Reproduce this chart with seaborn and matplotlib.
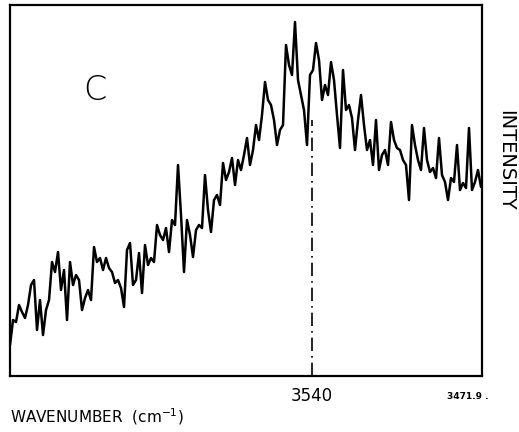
import numpy as np
import pandas as pd
import seaborn as sns
import matplotlib.pyplot as plt

# Spectrum C (intensity in arbitrary units, 0 = frame bottom)
wn_start = 3661.0
wn_end = 3472.3
intensity = [
    31, 56, 54, 71, 64, 58, 71, 91, 96, 46,
    76, 41, 66, 76, 114, 104, 124, 86, 106, 56,
    114, 91, 101, 96, 66, 78, 86, 76, 129, 114,
    118, 106, 118, 108, 104, 93, 96, 88, 69, 126,
    133, 91, 96, 123, 83, 131, 111, 118, 114, 151,
    141, 136, 148, 124, 156, 151, 211, 161, 104, 156,
    141, 119, 146, 151, 148, 201, 166, 144, 176, 181,
    171, 213, 196, 204, 218, 191, 216, 206, 221, 238,
    211, 226, 251, 236, 261, 294, 276, 271, 256, 231,
    246, 251, 331, 311, 301, 354, 296, 281, 266, 231,
    301, 306, 333, 316, 276, 291, 281, 314, 296, 261,
    228, 306, 266, 271, 258, 226, 256, 281, 251, 226,
    236, 211, 256, 206, 221, 226, 211, 254, 236, 228,
    226, 216, 211, 176, 251, 231, 216, 206, 248, 216,
    204, 208, 198, 238, 201, 194, 176, 198, 194, 231,
    186, 193, 188, 248, 186, 194, 206, 189,
]
wavenumber = np.linspace(wn_start, wn_end, len(intensity))
peak_wn = 3540
x_left = 3661.0
x_right = 3471.9

df = pd.DataFrame({"wavenumber": wavenumber, "intensity": intensity})

sns.set_style("white")
plt.rcParams['font.family'] = ['DejaVu Sans']
plt.rcParams['text.color'] = 'black'
plt.rcParams['axes.labelcolor'] = 'black'
plt.rcParams['xtick.color'] = 'black'

fig = plt.figure(figsize=(5.19, 4.32), dpi=100)
ax = fig.add_axes([0.0193, 0.1296, 0.9094, 0.8588])

sns.lineplot(data=df, x="wavenumber", y="intensity", estimator=None,
             color="black", linewidth=1.8, ax=ax)

# dash-dot marker line at the band centre
ax.plot([peak_wn, peak_wn], [0, 256], color="black", linewidth=1.2,
        linestyle=(0, (8, 3, 1, 3)))

ax.set_xlim(x_left, x_right)
ax.set_ylim(0, 371)
for s in ax.spines.values():
    s.set_color("black")
    s.set_linewidth(1.6)

ax.set_xticks([peak_wn])
ax.set_xticklabels(["3540"], fontsize=12)
ax.tick_params(axis="x", length=0, pad=8)
ax.set_yticks([])

ax.set_xlabel("WAVENUMBER  (cm$^{-1}$)", fontsize=11, loc="left", labelpad=1)
ax.set_ylabel("INTENSITY", fontsize=14, rotation=270)
ax.yaxis.set_label_position("right")
ax.yaxis.set_label_coords(1.07, 0.58)

ax.text(0.97, -0.055, "3471.9 .", transform=ax.transAxes, fontsize=6.5,
        fontweight="bold", ha="center", va="center")
ax.text(0.18, 0.77, "C", transform=ax.transAxes, fontsize=24,
        ha="center", va="center", fontweight="light")

fig.savefig("out.png", dpi=100)
